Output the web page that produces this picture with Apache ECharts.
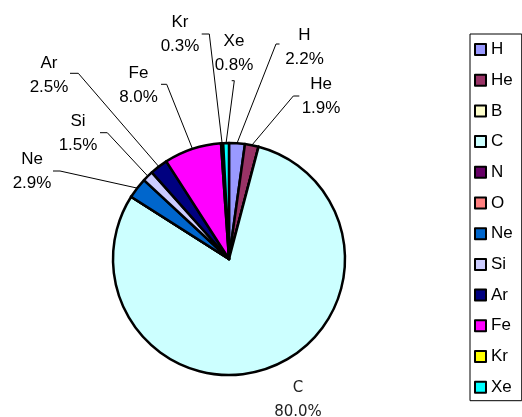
<!DOCTYPE html>
<html>
<head>
<meta charset="utf-8">
<script src="https://cdn.jsdelivr.net/npm/echarts@6/dist/echarts.min.js"></script>
<style>
  html, body { margin: 0; padding: 0; background: #fff; }
  #chart { width: 522px; height: 417px; }
</style>
</head>
<body>
<div id="chart"></div>
<script>
// Composition by element, in percent
const elements = ['H', 'He', 'B', 'C', 'N', 'O', 'Ne', 'Si', 'Ar', 'Fe', 'Kr', 'Xe'];
const shares   = [2.2, 1.9, 0, 80.0, 0, 0, 2.9, 1.5, 2.5, 8.0, 0.3, 0.8];
const colors   = ['#9999FF', '#993366', '#FFFFCC', '#CCFFFF', '#660066', '#FF8080',
                  '#0066CC', '#CCCCFF', '#000080', '#FF00FF', '#FFFF00', '#00FFFF'];

// Pie geometry
const CX = 229, CY = 259, R = 116;

// Label placement, offsets from the pie centre:
// [label dx, label dy, elbow dx, elbow dy, stub length toward the label]
const labelSpots = {
  H:  [75.5, -212, 47, -215, 3.5],
  He: [92, -163, 64.3, -163, 6],
  C:  [69, 141],
  Ne: [-197, -87.5, -169, -88, -7],
  Si: [-151, -126, -121.7, -126.3, -7.3],
  Ar: [-180, -184, -150.7, -185.7, -8.3],
  Fe: [-90.5, -174, -62.3, -174.7, -5.7],
  Kr: [-49, -225, -19.7, -225, -7.6],
  Xe: [5, -206, 5.3, -178.3, -2.6]
};

const ARIAL = '"Liberation Sans", Arial, sans-serif';

const pieData = elements.map((name, i) => {
  const item = {
    name: name,
    value: shares[i],
    itemStyle: { color: colors[i] }
  };
  if (shares[i] === 0) {
    item.label = { show: false };
    item.labelLine = { show: false };
  }
  if (name === 'C') {
    item.label = { fontFamily: '"DejaVu Sans", sans-serif', fontSize: 15, lineHeight: 24, color: '#222' };
    item.labelLine = { show: false };
  }
  return item;
});

const chart = echarts.init(document.getElementById('chart'), null, { renderer: 'canvas' });

chart.setOption({
  animation: false,
  backgroundColor: '#fff',
  legend: {
    orient: 'vertical',
    left: 470,
    top: 34,
    padding: [7, 9, 5, 4],
    itemGap: 13.7,
    itemWidth: 11,
    itemHeight: 11,
    icon: 'rect',
    borderColor: '#000',
    borderWidth: 1,
    borderRadius: 0,
    data: elements,
    itemStyle: { borderColor: '#000', borderWidth: 2 },
    textStyle: { fontFamily: ARIAL, fontSize: 17, color: '#000' }
  },
  series: [{
    type: 'pie',
    center: [CX, CY],
    radius: R,
    startAngle: 90,
    clockwise: true,
    avoidLabelOverlap: false,
    silent: true,
    itemStyle: { borderColor: '#000', borderWidth: 2.5 },
    label: {
      show: true,
      position: 'outside',
      fontFamily: ARIAL,
      fontSize: 17,
      lineHeight: 24,
      color: '#000',
      align: 'center',
      formatter: p => p.name + '\n' + p.value.toFixed(1) + '%'
    },
    labelLine: {
      show: true,
      length: 10,
      length2: 5,
      lineStyle: { color: '#000', width: 1 }
    },
    labelLayout: function (params) {
      const name = elements[params.dataIndex];
      const s = labelSpots[name];
      if (!s) return {};
      const out = {
        x: CX + s[0],
        y: CY + s[1],
        align: 'center',
        verticalAlign: 'middle'
      };
      const pts = params.labelLinePoints;
      if (pts && s.length > 2) {
        const ex = CX + s[2], ey = CY + s[3];
        out.labelLinePoints = [pts[0], [ex, ey], [ex + s[4], ey]];
      }
      return out;
    },
    data: pieData
  }]
});
</script>
</body>
</html>
